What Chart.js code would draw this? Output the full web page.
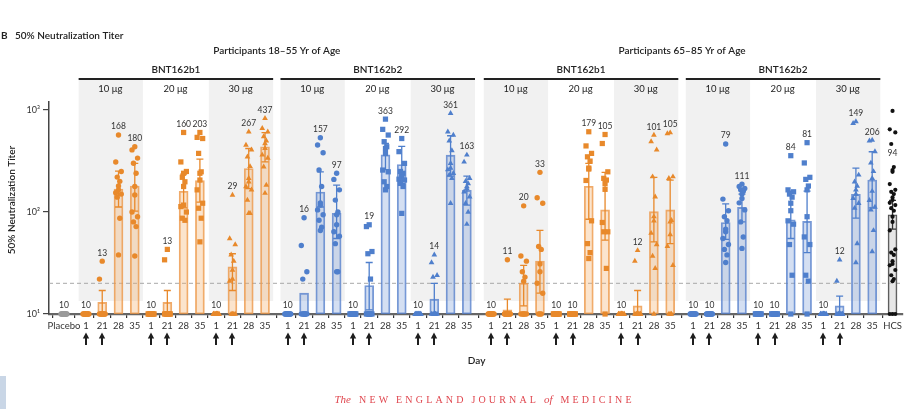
<!DOCTYPE html>
<html>
<head>
<meta charset="utf-8">
<script src="https://cdn.jsdelivr.net/npm/chart.js@4"></script>
<style>
  html, body { margin: 0; padding: 0; background: #fff; }
  canvas { display: block; }
</style>
</head>
<body>
<canvas id="chart" width="906" height="409"></canvas>
<script>
// ---- labels ----
const dayLabels = ['1', '21', '28', '35'];
const doseLabels = ['10 μg', '20 μg', '30 μg'];
const vaccineLabels = ['BNT162b1', 'BNT162b2', 'BNT162b1', 'BNT162b2'];
const ageLabels = ['Participants 18–55 Yr of Age', 'Participants 65–85 Yr of Age'];
const yTickValues = [10, 100, 1000];
const yTickLabels = ['10¹', '10²', '10³'];

// ---- geometric mean titers, one row per dose cohort (days 1, 21, 28, 35) ----
const gmtYoungB1 = [[10, 13, 168, 180], [10, 13, 160, 203], [10, 29, 267, 437]];
const gmtYoungB2 = [[10, 16, 157, 97], [10, 19, 363, 292], [10, 14, 361, 163]];
const gmtOldB1   = [[10, 11, 20, 33], [10, 10, 179, 105], [10, 12, 101, 105]];
const gmtOldB2   = [[10, 10, 79, 111], [10, 10, 84, 81], [10, 12, 149, 206]];
const gmtPlacebo = 10;
const gmtHcs = 94;

// ---- 95% confidence intervals [low, high] ----
const ciYoungB1 = [
  [[10, 10], [10, 17], [112, 252], [102, 300]],
  [[10, 10], [10, 17], [110, 235], [125, 330]],
  [[10, 10], [17, 39], [170, 420], [310, 600]]
];
const ciYoungB2 = [
  [[10, 10], [16, 16], [112, 248], [55, 184]],
  [[10, 10], [11, 32], [260, 470], [190, 440]],
  [[10, 10], [10, 20], [225, 560], [117, 225]]
];
const ciOldB1 = [
  [[10, 10], [10, 14], [12, 30], [16, 66]],
  [[10, 10], [10, 10], [85, 300], [53, 245]],
  [[10, 10], [10, 17], [51, 219], [49, 206]]
];
const ciOldB2 = [
  [[10, 10], [10, 10], [54, 120], [80, 150]],
  [[10, 10], [10, 10], [55, 160], [40, 160]],
  [[10, 10], [10, 15], [87, 270], [110, 390]]
];
const ciHcs = [68, 130];

// ---- individual participant titers ----
const preDoseTiters = [10, 10, 10, 10, 10, 10, 10, 10, 10, 10, 10, 10];
const titersYoungB1 = [
  [preDoseTiters, [33, 22, 10, 10, 10, 10, 10, 10, 10, 10, 10, 10],
   [570, 310, 250, 220, 200, 180, 165, 155, 150, 140, 87, 38],
   [437, 407, 338, 301, 240, 178, 147, 100, 90, 80, 72, 37]],
  [preDoseTiters, [43, 34, 10, 10, 10, 10, 10, 10, 10, 10, 10, 10],
   [603, 310, 250, 219, 198, 178, 117, 113, 100, 87, 83, 240],
   [603, 540, 526, 376, 248, 240, 206, 165, 122, 109, 87, 51]],
  [preDoseTiters, [147, 55, 48, 38, 33, 27, 22, 21, 10, 10, 10, 10],
   [613, 454, 407, 348, 280, 214, 198, 178, 165, 131, 97, 97],
   [831, 661, 613, 550, 500, 470, 421, 363, 338, 278, 184, 153]]
];
const titersYoungB2 = [
  [preDoseTiters, [88, 47, 26, 22, 10, 10, 10, 10, 10, 10, 10, 10],
   [535, 455, 382, 258, 178, 123, 117, 105, 94, 83, 71, 66],
   [240, 209, 165, 131, 100, 94, 75, 64, 58, 49, 26, 26]],
  [preDoseTiters, [75, 72, 41, 39, 22, 10, 10, 10, 10, 10, 10, 10],
   [815, 647, 569, 490, 437, 420, 376, 258, 248, 198, 178, 165],
   [526, 391, 300, 250, 240, 230, 222, 210, 206, 191, 178, 97]],
  [preDoseTiters, [38, 32, 24, 23, 10, 10, 10, 10, 10, 10, 10, 10],
   [928, 613, 569, 500, 400, 300, 270, 260, 240, 231, 214, 122],
   [363, 310, 214, 200, 190, 178, 170, 158, 141, 122, 100, 76]]
];
const titersOldB1 = [
  [preDoseTiters, [34, 10, 10, 10, 10, 10, 10, 10, 10, 10, 10, 10],
   [115, 37, 33, 26, 23, 21, 10, 10, 10, 10, 10, 10],
   [245, 138, 122, 46, 43, 31, 26, 20, 16, 10, 10, 10]],
  [preDoseTiters, preDoseTiters,
   [613, 445, 376, 348, 316, 270, 264, 204, 82, 49, 40, 35],
   [576, 470, 248, 214, 206, 190, 167, 79, 64, 64, 28, 10]],
  [preDoseTiters, [42, 33, 10, 10, 10, 10, 10, 10, 10, 10, 10, 10],
   [569, 490, 407, 222, 141, 90, 82, 62, 48, 37, 28, 10],
   [600, 589, 222, 214, 83, 80, 60, 46, 30, 10, 10, 10]]
];
const titersOldB2 = [
  [preDoseTiters, preDoseTiters,
   [465, 134, 103, 90, 82, 68, 64, 55, 48, 43, 38, 32],
   [188, 178, 170, 165, 160, 150, 136, 123, 105, 80, 57, 44]],
  [preDoseTiters, preDoseTiters,
   [357, 165, 158, 150, 140, 122, 103, 82, 76, 48, 24, 10],
   [479, 303, 219, 209, 180, 165, 90, 57, 48, 24, 21, 10]],
  [preDoseTiters, [34, 21, 10, 10, 10, 10, 10, 10, 10, 10, 10, 10],
   [770, 740, 231, 198, 180, 165, 150, 136, 122, 109, 49, 32],
   [508, 500, 391, 303, 250, 214, 160, 130, 112, 105, 66, 41]]
];
const titersPlacebo = [10, 10, 10, 10, 10, 10, 10, 10, 10, 10, 10, 10];
const titersHcs = [980, 647, 603, 465, 276, 258, 248, 188, 165, 158, 150, 139, 131,
  123, 117, 109, 103, 90, 80, 66, 43, 40, 38, 33, 31, 30, 27, 24, 22, 21, 10, 10, 10];

// ---- layout of the day axis (slot units) ----
const POS_PLACEBO = 0;
const POS_HCS = 50.9;
const BLOCK_START = [1.35, 13.75, 26.24, 38.65];
const HCS_LABEL_LEVEL = 316;
const JITTER = [0, -0.17, 0.17, -0.08, 0.08, 0];

const FONT = 'Lato, "Open Sans", sans-serif';
const ORANGE = '#e8892b', ORANGE_FILL = 'rgba(244,172,102,0.33)', ORANGE_EDGE = 'rgba(236,150,70,0.8)';
const BLUE = '#4f7fcc', BLUE_FILL = 'rgba(120,155,215,0.32)', BLUE_EDGE = 'rgba(85,128,204,0.8)';
const SHAPES = ['circle', 'rect', 'triangle'];
const SHAPE_RADIUS = { circle: 2.7, rect: 3.7, triangle: 3.3 };

// ---- assemble the chart tables ----
const blocks = [
  { gmt: gmtYoungB1, ci: ciYoungB1, titers: titersYoungB1, orange: true },
  { gmt: gmtYoungB2, ci: ciYoungB2, titers: titersYoungB2, orange: false },
  { gmt: gmtOldB1, ci: ciOldB1, titers: titersOldB1, orange: true },
  { gmt: gmtOldB2, ci: ciOldB2, titers: titersOldB2, orange: false }
];

const barData = [], barFill = [], barEdge = [], errorBars = [], valueLabels = [];
const tickPositions = [], tickLabels = [];
const scatterSets = {};

function addScatter(key, color, shape, x, values) {
  if (!scatterSets[key]) {
    scatterSets[key] = {
      type: 'scatter', data: [], showLine: false, clip: false, order: 1,
      pointStyle: shape, pointRadius: SHAPE_RADIUS[shape] || 2.4,
      backgroundColor: color, borderColor: color, borderWidth: 0, pointHoverRadius: 0
    };
  }
  values.forEach((v, i) => scatterSets[key].data.push({ x: x + JITTER[i % JITTER.length], y: v }));
}

// placebo
tickPositions.push(POS_PLACEBO); tickLabels.push('Placebo');
barData.push({ x: POS_PLACEBO, y: gmtPlacebo }); barFill.push('rgba(160,160,160,0.4)'); barEdge.push('#9a9a9a');
addScatter('placebo', '#9a9a9a', 'circle', POS_PLACEBO, titersPlacebo);
valueLabels.push({ x: POS_PLACEBO, text: String(gmtPlacebo), level: Math.max(...titersPlacebo) });

blocks.forEach((b, bi) => {
  const color = b.orange ? ORANGE : BLUE;
  b.gmt.forEach((row, d) => {
    row.forEach((g, k) => {
      const x = BLOCK_START[bi] + d * 4 + k;
      tickPositions.push(x); tickLabels.push(dayLabels[k]);
      barData.push({ x, y: g });
      barFill.push(b.orange ? ORANGE_FILL : BLUE_FILL);
      barEdge.push(b.orange ? ORANGE_EDGE : BLUE_EDGE);
      const [lo, hi] = b.ci[d][k];
      errorBars.push({ x, lo, hi, color });
      const pts = b.titers[d][k];
      addScatter((b.orange ? 'o' : 'b') + d, color, SHAPES[d], x, pts);
      valueLabels.push({ x, text: String(g), level: Math.max(g, hi, ...pts) });
    });
  });
});

// human convalescent serum panel
tickPositions.push(POS_HCS); tickLabels.push('HCS');
barData.push({ x: POS_HCS, y: gmtHcs }); barFill.push('rgba(215,215,215,0.6)'); barEdge.push('#555');
errorBars.push({ x: POS_HCS, lo: ciHcs[0], hi: ciHcs[1], color: '#333' });
addScatter('hcs', '#111', 'circle', POS_HCS, titersHcs);
scatterSets.hcs.pointRadius = 2.1;
valueLabels.push({ x: POS_HCS, text: String(gmtHcs), level: HCS_LABEL_LEVEL });

const barDataset = {
  type: 'bar', data: barData, order: 2, clip: false,
  backgroundColor: barFill, borderColor: barEdge, borderWidth: 1.2,
  borderSkipped: false, barThickness: 9, grouped: false
};

// ---- decorations: shading, headers, error bars, labels, arrows ----
const decor = {
  id: 'decor',
  beforeDraw(chart) {
    const { ctx } = chart;
    const xs = chart.scales.x, ys = chart.scales.y;
    const px = v => xs.getPixelForValue(v);
    ctx.save();
    // 10 μg and 30 μg cohorts sit on a light band
    ctx.fillStyle = '#f1f1f1';
    const top = 80, bottom = ys.bottom - 13;
    BLOCK_START.forEach(bs => [0, 2].forEach(d => {
      const x0 = px(bs + d * 4 - 0.45), x1 = px(bs + d * 4 + 3.5);
      ctx.fillRect(x0, top, x1 - x0, bottom - top);
    }));

    ctx.fillStyle = '#222';
    ctx.textAlign = 'center';
    ctx.textBaseline = 'middle';
    // age headers
    ctx.font = `600 10px ${FONT}`;
    [0, 1].forEach(a => {
      const x0 = px(BLOCK_START[a * 2] - 0.45), x1 = px(BLOCK_START[a * 2 + 1] + 11.5);
      ctx.fillText(ageLabels[a], (x0 + x1) / 2, 51);
    });
    // vaccine headers with rules
    BLOCK_START.forEach((bs, bi) => {
      const x0 = px(bs - 0.45), x1 = px(bs + 11.5);
      ctx.font = `600 10px ${FONT}`;
      ctx.fillText(vaccineLabels[bi], (x0 + x1) / 2, 70);
      ctx.fillRect(x0, 78, x1 - x0, 2);
      ctx.font = `9.5px ${FONT}`;
      doseLabels.forEach((lab, d) => {
        ctx.fillText(lab, px(bs + d * 4 + 1.5), 89);
      });
    });
    ctx.restore();
  },
  beforeDatasetsDraw(chart) {
    const { ctx, chartArea } = chart;
    const y = chart.scales.y.getPixelForValue(20);
    ctx.save();
    ctx.strokeStyle = '#a8a8a8';
    ctx.lineWidth = 1;
    ctx.setLineDash([4, 3]);
    ctx.beginPath();
    ctx.moveTo(chartArea.left, y);
    ctx.lineTo(chartArea.right, y);
    ctx.stroke();
    ctx.restore();
  },
  afterDatasetDraw(chart, args) {
    if (args.meta.type !== 'bar') return;
    const { ctx } = chart;
    const xs = chart.scales.x, ys = chart.scales.y;
    ctx.save();
    ctx.lineWidth = 1.3;
    errorBars.forEach(e => {
      if (e.hi <= e.lo) return;
      const x = xs.getPixelForValue(e.x);
      const y0 = ys.getPixelForValue(e.lo), y1 = ys.getPixelForValue(e.hi);
      ctx.strokeStyle = e.color;
      ctx.beginPath();
      ctx.moveTo(x, y0); ctx.lineTo(x, y1);
      ctx.moveTo(x - 3.5, y1); ctx.lineTo(x + 3.5, y1);
      ctx.moveTo(x - 3.5, y0); ctx.lineTo(x + 3.5, y0);
      ctx.stroke();
    });
    ctx.restore();
  },
  afterDraw(chart) {
    const { ctx } = chart;
    const xs = chart.scales.x, ys = chart.scales.y;
    const px = v => xs.getPixelForValue(v);
    ctx.save();
    // value labels
    ctx.fillStyle = '#333';
    ctx.textAlign = 'center';
    ctx.textBaseline = 'bottom';
    ctx.font = `8.5px ${FONT}`;
    valueLabels.forEach(l => {
      ctx.fillText(l.text, px(l.x), ys.getPixelForValue(l.level) - 4);
    });

    // dosing arrows under days 1 and 21
    ctx.fillStyle = '#1e1e1e';
    ctx.strokeStyle = '#1e1e1e';
    ctx.lineWidth = 2;
    BLOCK_START.forEach(bs => [0, 1, 2].forEach(d => [0, 1].forEach(k => {
      const x = Math.round(px(bs + d * 4 + k));
      ctx.beginPath();
      ctx.moveTo(x, 345); ctx.lineTo(x, 337);
      ctx.stroke();
      ctx.beginPath();
      ctx.moveTo(x, 332.5); ctx.lineTo(x - 3.2, 338.5); ctx.lineTo(x + 3.2, 338.5);
      ctx.closePath();
      ctx.fill();
    })));

    // titles
    ctx.fillStyle = '#222';
    ctx.textBaseline = 'middle';
    ctx.textAlign = 'center';
    ctx.font = `600 10px ${FONT}`;
    ctx.fillText('Day', px(25.35), 361);
    ctx.textAlign = 'left';
    ctx.font = `bold 10px ${FONT}`;
    ctx.fillText('B', 1, 36);
    ctx.font = `600 10px ${FONT}`;
    ctx.fillText('50% Neutralization Titer', 15, 36);

    ctx.save();
    ctx.translate(12, 200);
    ctx.rotate(-Math.PI / 2);
    ctx.textAlign = 'center';
    ctx.font = `600 10px ${FONT}`;
    ctx.fillText('50% Neutralization Titer', 0, 0);
    ctx.restore();

    // journal footer: italic joiners, letter-spaced capitals
    const serif = '"Liberation Serif", "DejaVu Serif", serif';
    const words = [
      { t: 'The', f: `italic 11px ${serif}`, caps: false },
      { t: 'NEW', f: `10px ${serif}`, caps: true },
      { t: 'ENGLAND', f: `10px ${serif}`, caps: true },
      { t: 'JOURNAL', f: `10px ${serif}`, caps: true },
      { t: 'of', f: `italic 11px ${serif}`, caps: false },
      { t: 'MEDICINE', f: `10px ${serif}`, caps: true }
    ];
    const wordGap = 8, target = 297;
    let base = wordGap * (words.length - 1), gaps = 0;
    words.forEach(w => {
      ctx.font = w.f;
      for (const ch of w.t) base += ctx.measureText(ch).width;
      if (w.caps) gaps += w.t.length - 1;
    });
    const sp = Math.max(0, (target - base) / gaps);
    let x = 483 - target / 2;
    ctx.fillStyle = '#e0474f';
    ctx.textAlign = 'left';
    words.forEach(w => {
      ctx.font = w.f;
      [...w.t].forEach((ch, i) => {
        ctx.fillText(ch, x, 400);
        x += ctx.measureText(ch).width + (w.caps && i < w.t.length - 1 ? sp : 0);
      });
      x += wordGap;
    });

    // page edge tab
    ctx.fillStyle = '#c9d6e6';
    ctx.fillRect(0, 376, 6, 33);
    ctx.restore();
  }
};

new Chart(document.getElementById('chart').getContext('2d'), {
  type: 'bar',
  data: { datasets: [...Object.values(scatterSets), barDataset] },
  options: {
    responsive: false,
    animation: false,
    devicePixelRatio: 1,
    events: [],
    layout: { padding: { top: 102, left: 0, right: 0, bottom: 0 } },
    plugins: { legend: { display: false }, tooltip: { enabled: false } },
    scales: {
      x: {
        type: 'linear', min: -0.92, max: 51.5, offset: false,
        afterBuildTicks: s => { s.ticks = tickPositions.map(v => ({ value: v })); },
        afterFit: s => { s.height = 95; },
        ticks: {
          autoSkip: false, maxRotation: 0, minRotation: 0, padding: 2,
          color: '#333', font: { family: FONT, size: 9.5 },
          callback: (v, i) => tickLabels[i]
        },
        grid: { drawOnChartArea: false, tickLength: 4, color: '#333', lineWidth: 1.2 },
        border: { color: '#666', width: 2.2 }
      },
      y: {
        type: 'logarithmic', min: 10, max: 1200,
        afterBuildTicks: s => { s.ticks = yTickValues.map(v => ({ value: v })); },
        afterFit: s => { s.width = 49; },
        ticks: {
          padding: 3, color: '#333', font: { family: FONT, size: 9 },
          callback: (v, i) => yTickLabels[i]
        },
        grid: { drawOnChartArea: false, tickLength: 6, color: '#444', lineWidth: 1.2 },
        border: { color: '#444', width: 1.5 }
      }
    }
  },
  plugins: [decor]
});
</script>
</body>
</html>
